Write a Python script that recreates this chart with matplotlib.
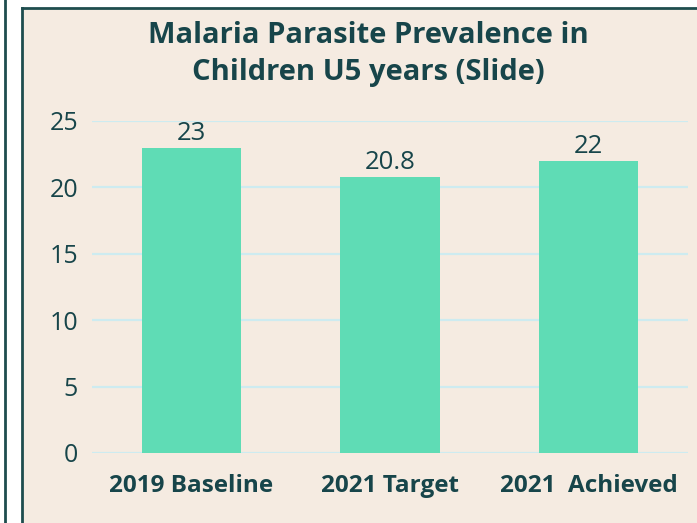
import matplotlib
matplotlib.use("Agg")
import matplotlib.pyplot as plt
from matplotlib.patches import Rectangle
from matplotlib.lines import Line2D

categories = ["2019 Baseline", "2021 Target", "2021  Achieved"]
values = [23, 20.8, 22]
value_labels = ["23", "20.8", "22"]
yticks = [0, 5, 10, 15, 20, 25]

W, H = 697, 523
fig = plt.figure(figsize=(W / 100, H / 100), dpi=100)
fig.patch.set_facecolor("white")

bg = "#F5EBE1"
text_c = "#17454A"
bar_c = "#5FDCB5"
border_c = "#1E4D4E"

# panel background and borders
fig.patches.append(Rectangle((22 / W, 0), 1, 1 - 8 / H, transform=fig.transFigure,
                             facecolor=bg, edgecolor="none", zorder=-5))
fig.lines.append(Line2D([22 / W, 22 / W], [0, 1 - 8 / H], transform=fig.transFigure,
                        color=border_c, lw=2, zorder=-4))
fig.lines.append(Line2D([22 / W, 1], [1 - 8 / H, 1 - 8 / H], transform=fig.transFigure,
                        color=border_c, lw=2, zorder=-4))
fig.lines.append(Line2D([5 / W, 5 / W], [0, 1], transform=fig.transFigure,
                        color=border_c, lw=2, zorder=-4))

ax = fig.add_axes([92 / W, (H - 453) / H, (688 - 92) / W, (453 - 121) / H])
ax.set_facecolor("none")
x = range(len(categories))
ax.bar(x, values, width=0.5, color=bar_c, zorder=2)
ax.set_xlim(-0.5, 2.5)
ax.set_ylim(0, 25)
ax.set_yticks(yticks)
ax.grid(axis="y", color="#CDEBF0", lw=1.6, zorder=1)
ax.set_axisbelow(True)
for s in ax.spines.values():
    s.set_visible(False)
ax.tick_params(length=0)
ax.set_xticks(list(x))
ax.set_xticklabels(categories, fontfamily="Open Sans", fontweight="bold",
                   fontsize=17.5, color=text_c)
ax.tick_params(axis="x", pad=15)
ax.tick_params(axis="y", pad=10)
for lab in ax.get_yticklabels():
    lab.set_fontfamily("Open Sans")
    lab.set_fontsize(18)
    lab.set_color(text_c)

for xi, v, t in zip(x, values, value_labels):
    ax.annotate(t, (xi, v), xytext=(0, 1), textcoords="offset points",
                ha="center", va="bottom", fontsize=18.5, color=text_c,
                fontfamily="Open Sans")

fig.text(368 / W, 1 - 54 / H, "Malaria Parasite Prevalence in\nChildren U5 years (Slide)",
         ha="center", va="center", fontsize=21, fontweight="bold",
         color=text_c, fontfamily="Open Sans", linespacing=1.4)

fig.savefig("out.png", dpi=100)
